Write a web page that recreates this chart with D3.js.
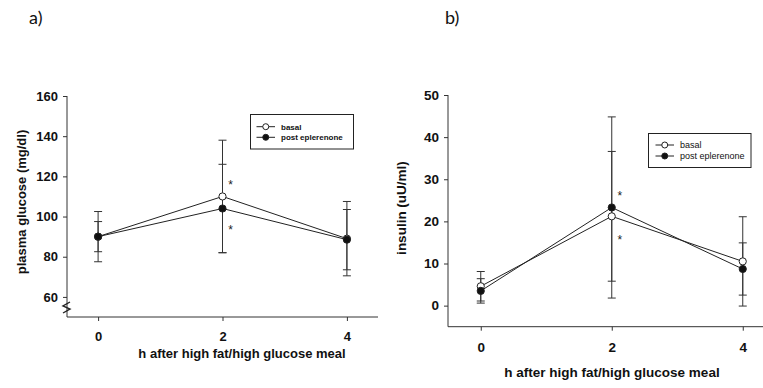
<!DOCTYPE html>
<html><head><meta charset="utf-8">
<script src="https://cdn.jsdelivr.net/npm/d3@7"></script>
<style>
html,body{margin:0;padding:0;background:#fff;}
svg{display:block;}
text{font-family:"Liberation Sans",Arial,sans-serif;}
</style></head>
<body>
<svg id="c" width="763" height="388"></svg>
<script>
// ---- data ----
const hours = [0, 2, 4];
const xTicks = [0, 2, 4];
const seriesNames = ["basal", "post eplerenone"];

const glucoseBasal = [90, 110, 89];
const glucoseBasalErr = [12.5, 28, 18.5];
const glucosePost = [90, 104, 88.5];
const glucosePostErr = [7.5, 22, 15];
const glucoseTicks = [60, 80, 100, 120, 140, 160];
const glucoseStars = [{h: 2, v: 117}, {h: 2, v: 94.6}];

const insulinBasal = [4.6, 21.2, 10.5];
const insulinBasalErr = [3.5, 15.4, 10.6];
const insulinPost = [3.5, 23.3, 8.7];
const insulinPostErr = [2.9, 21.5, 6.2];
const insulinTicks = [0, 10, 20, 30, 40, 50];
const insulinStars = [{h: 2, v: 26.8}, {h: 2, v: 16.2}];

const svg = d3.select("#c");

function panel(cfg) {
  const g = svg.append("g");
  const x = d3.scaleLinear().domain([-0.5, 4.5]).range([cfg.x0, cfg.x1]);
  const y = d3.scaleLinear().domain(cfg.yDomain).range([cfg.yBottom, cfg.yTop]);

  // panel label
  g.append("text").attr("x", cfg.labelX).attr("y", 24)
    .style("font-family", "Lato, 'Open Sans', sans-serif").style("font-size", "18px")
    .attr("fill", "#111").text(cfg.label);

  // y axis
  const ya = g.append("g").attr("transform", `translate(${cfg.x0},0)`)
    .call(d3.axisLeft(y).tickValues(cfg.yTicks).tickSize(4).tickPadding(5).tickFormat(d3.format("d")));
  ya.select(".domain").attr("d", `M0,${y(cfg.yTicks[cfg.yTicks.length-1])}V${cfg.yBottom}`).attr("stroke", "#333");
  ya.selectAll(".tick line").attr("stroke", "#333");
  ya.selectAll("text").style("font-size", cfg.fs + "px").style("font-weight", "bold").attr("fill", "#111");

  // x axis
  const xa = g.append("g").attr("transform", `translate(0,${cfg.yBottom})`)
    .call(d3.axisBottom(x).tickValues(xTicks).tickSize(4).tickPadding(cfg.xPad).tickFormat(d3.format("d")));
  xa.select(".domain").attr("d", `M${cfg.x0},0H${cfg.x1}`).attr("stroke", "#333");
  xa.selectAll(".tick line").attr("stroke", "#333");
  xa.selectAll("text").style("font-size", cfg.fs + "px").style("font-weight", "bold").attr("fill", "#111");

  if (cfg.axisBreak) {
    const bx = cfg.x0, by = cfg.yBottom;
    g.append("path").attr("d", `M${bx+3},${by-15}L${bx-4},${by-11}L${bx+3},${by-8}L${bx-4},${by-4}`)
      .attr("fill", "none").attr("stroke", "#222").attr("stroke-width", 1.4);
  }

  // titles
  g.append("text").attr("x", cfg.xTitleX).attr("y", cfg.xTitleY).attr("text-anchor", "middle")
    .style("font-size", cfg.fs + "px").style("font-weight", "bold").attr("fill", "#111").text(cfg.xTitle);
  g.append("text").attr("transform", `translate(${cfg.yTitleX},${cfg.yTitleY}) rotate(-90)`).attr("text-anchor", "middle")
    .style("font-size", cfg.fs + "px").style("font-weight", "bold").attr("fill", "#111").text(cfg.yTitle);

  const series = [
    {vals: cfg.basal, err: cfg.basalErr, fill: "#fff"},
    {vals: cfg.post, err: cfg.postErr, fill: "#111"}
  ];

  // error bars
  series.forEach(s => {
    hours.forEach((h, i) => {
      const cx = x(h), lo = y(s.vals[i] - s.err[i]), hi = y(s.vals[i] + s.err[i]);
      g.append("line").attr("x1", cx).attr("x2", cx).attr("y1", lo).attr("y2", hi).attr("stroke", "#333").attr("stroke-width", 1);
      [lo, hi].forEach(yy => g.append("line").attr("x1", cx-4).attr("x2", cx+4).attr("y1", yy).attr("y2", yy).attr("stroke", "#333").attr("stroke-width", 1));
    });
  });
  // lines
  const line = d3.line().x(d => x(d[0])).y(d => y(d[1]));
  series.forEach(s => {
    g.append("path").attr("d", line(hours.map((h, i) => [h, s.vals[i]])))
      .attr("fill", "none").attr("stroke", "#222").attr("stroke-width", 1);
  });
  // markers
  series.forEach(s => {
    g.selectAll(null).data(hours).enter().append("circle")
      .attr("cx", h => x(h)).attr("cy", (h, i) => y(s.vals[i])).attr("r", 3.6)
      .attr("fill", s.fill).attr("stroke", "#222").attr("stroke-width", 1);
  });
  // asterisks
  g.selectAll(null).data(cfg.stars).enter().append("text")
    .attr("x", d => x(d.h) + 8).attr("y", d => y(d.v) + 7).attr("text-anchor", "middle")
    .style("font-size", "12px").attr("fill", "#222").text("*");

  // legend
  const L = cfg.legend;
  g.append("rect").attr("x", L.x).attr("y", L.y).attr("width", L.w).attr("height", L.h)
    .attr("fill", "#fff").attr("stroke", "#222").attr("stroke-width", 1);
  seriesNames.forEach((name, i) => {
    const yy = L.rowY[i];
    g.append("line").attr("x1", L.lx0).attr("x2", L.lx1).attr("y1", yy).attr("y2", yy).attr("stroke", "#222");
    g.append("circle").attr("cx", (L.lx0 + L.lx1) / 2).attr("cy", yy).attr("r", 3)
      .attr("fill", series[i].fill).attr("stroke", "#222");
    g.append("text").attr("x", L.tx).attr("y", yy + 3).style("font-size", L.fs + "px")
      .style("font-weight", L.bold ? "bold" : "normal").attr("fill", "#111").text(name);
  });
}

panel({
  label: "a)", labelX: 29,
  x0: 67, x1: 378, yBottom: 317, yTop: 96, yDomain: [50, 160], yTicks: glucoseTicks,
  fs: 13, xPad: 11, axisBreak: true,
  xTitle: "h after high fat/high glucose meal", xTitleX: 242, xTitleY: 358,
  yTitle: "plasma glucose (mg/dl)", yTitleX: 26, yTitleY: 202,
  basal: glucoseBasal, basalErr: glucoseBasalErr, post: glucosePost, postErr: glucosePostErr,
  stars: glucoseStars,
  legend: {x: 250.5, y: 114.5, w: 103, h: 34.5, rowY: [126.7, 137.3], lx0: 256.5, lx1: 275, tx: 281, fs: 8, bold: true}
});

panel({
  label: "b)", labelX: 445,
  x0: 448, x1: 775.5, yBottom: 326.7, yTop: 95, yDomain: [-5, 50], yTicks: insulinTicks,
  fs: 13.5, xPad: 12, axisBreak: false,
  xTitle: "h after high fat/high glucose meal", xTitleX: 612, xTitleY: 377,
  yTitle: "insulin (uU/ml)", yTitleX: 405.5, yTitleY: 208,
  basal: insulinBasal, basalErr: insulinBasalErr, post: insulinPost, postErr: insulinPostErr,
  stars: insulinStars,
  legend: {x: 648.5, y: 133.5, w: 102.5, h: 34, rowY: [145, 156], lx0: 655.5, lx1: 674, tx: 680, fs: 9, bold: false}
});
</script>
</body></html>
